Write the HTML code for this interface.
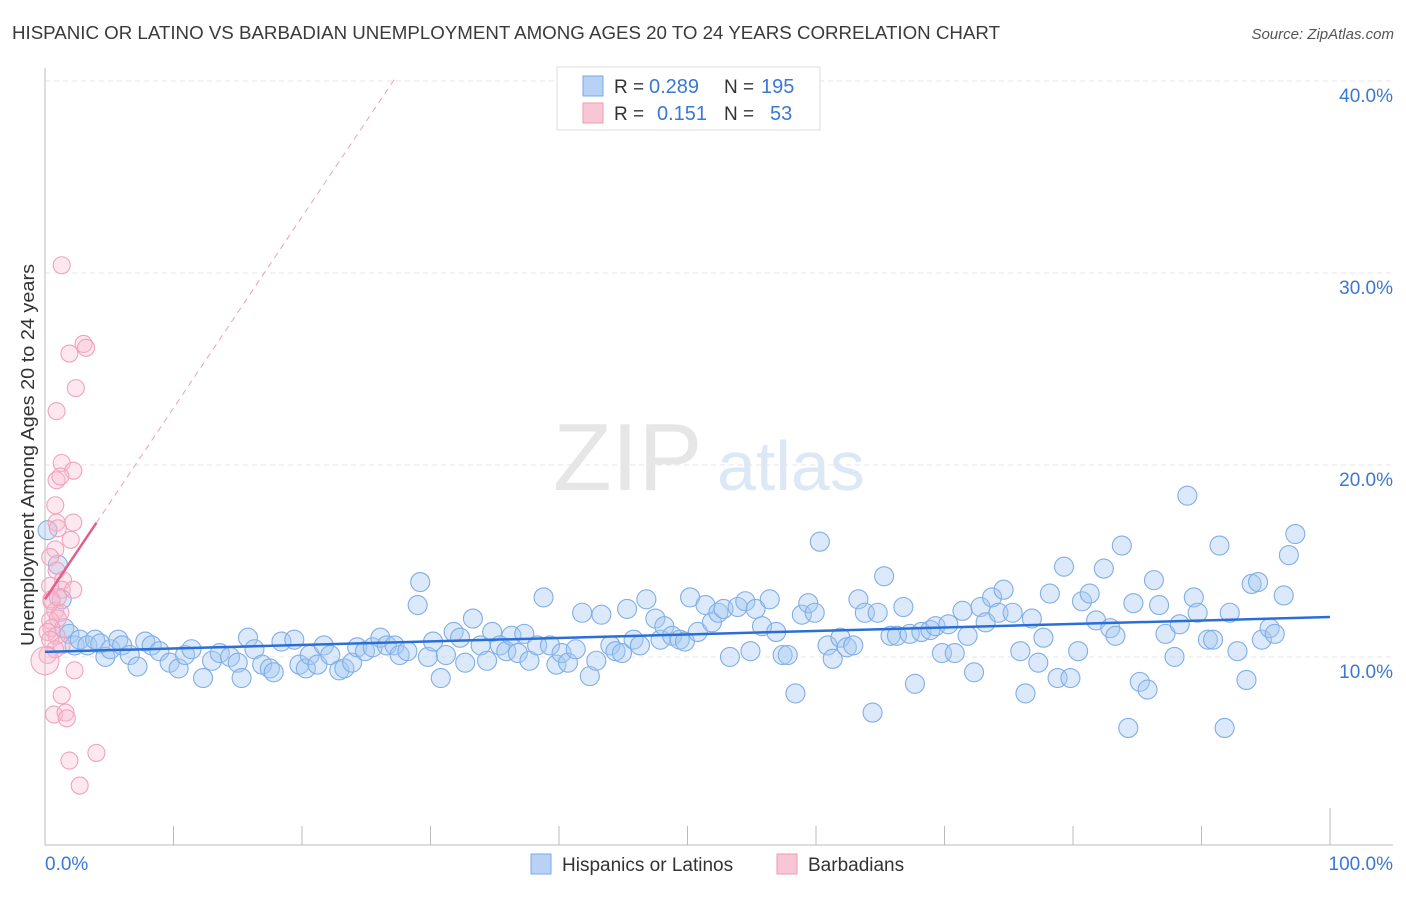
<!DOCTYPE html>
<html><head><meta charset="utf-8">
<style>
body{margin:0;background:#fff;font-family:"Liberation Sans",sans-serif;}
svg text{font-family:"Liberation Sans",sans-serif;}
</style></head>
<body>
<svg id="chart" width="1406" height="892" viewBox="0 0 1406 892" xmlns="http://www.w3.org/2000/svg">
<text x="12" y="39" font-size="18" fill="#3a3a3a" textLength="988" lengthAdjust="spacingAndGlyphs">HISPANIC OR LATINO VS BARBADIAN UNEMPLOYMENT AMONG AGES 20 TO 24 YEARS CORRELATION CHART</text>
<text x="1394" y="39" font-size="15" fill="#555" font-style="italic" text-anchor="end">Source: ZipAtlas.com</text>
<text x="553" y="490" font-size="96" fill="#e6e6e6" font-family="Liberation Serif">ZIP</text>
<text x="717" y="490" font-size="70" fill="#dde8f6">atlas</text>
<g id="grid"></g>
<g id="axes"></g>
<g id="marks"></g>
<text transform="translate(34,455) rotate(-90)" font-size="18" fill="#333" text-anchor="middle" textLength="382" lengthAdjust="spacingAndGlyphs">Unemployment Among Ages 20 to 24 years</text>
<g>
<rect x="557" y="67" width="263" height="63" fill="#fff" stroke="#ddd"/>
<rect x="583" y="76" width="20" height="20" fill="#b8d2f5" stroke="#7aa8e6"/>
<text x="614" y="93" font-size="19" fill="#333">R = </text><text x="649" y="93" font-size="20" fill="#3a78d4">0.289</text>
<text x="724" y="93" font-size="19" fill="#333">N = </text><text x="761" y="93" font-size="20" fill="#3a78d4">195</text>
<rect x="583" y="103" width="20" height="20" fill="#f9c6d6" stroke="#ee9ab4"/>
<text x="614" y="120" font-size="19" fill="#333">R = </text><text x="657" y="120" font-size="20" fill="#3a78d4">0.151</text>
<text x="724" y="120" font-size="19" fill="#333">N = </text><text x="770" y="120" font-size="20" fill="#3a78d4">53</text>
</g>
<g>
<rect x="531" y="854" width="20" height="20" fill="#b8d2f5" stroke="#7aa8e6"/>
<text x="562" y="871" font-size="19" fill="#333">Hispanics or Latinos</text>
<rect x="777" y="854" width="20" height="20" fill="#f9c6d6" stroke="#ee9ab4"/>
<text x="808" y="871" font-size="19" fill="#333">Barbadians</text>
</g>
</svg>
<script>
const blueX=[0.2,1.0,1.3,1.5,1.9,2.3,2.7,3.3,3.9,4.3,4.7,5.1,5.7,6.0,6.6,7.2,7.8,8.3,8.9,9.7,10.4,10.9,11.4,12.3,13.0,13.6,14.4,15.0,15.3,15.8,16.3,16.9,17.5,17.8,18.4,19.4,19.8,20.3,20.6,21.2,21.7,22.2,22.9,23.3,23.9,24.3,24.9,25.5,26.1,26.6,27.2,27.6,28.2,29.0,29.2,29.8,30.2,30.8,31.2,31.8,32.3,32.7,33.3,33.9,34.4,34.8,35.4,35.9,36.3,36.8,37.3,37.7,38.3,38.8,39.3,39.8,40.2,40.7,41.3,41.8,42.4,42.9,43.3,44.0,44.4,44.9,45.3,45.8,46.3,46.8,47.5,47.9,48.2,48.8,49.4,49.8,50.2,50.8,51.4,51.9,52.4,52.8,53.3,53.9,54.5,54.9,55.3,55.8,56.4,56.9,57.4,57.8,58.4,58.9,59.4,59.9,60.3,60.9,61.3,61.9,62.4,62.9,63.3,63.8,64.4,64.8,65.3,65.8,66.3,66.8,67.3,67.7,68.2,68.9,69.3,69.8,70.3,70.8,71.4,71.8,72.3,72.8,73.2,73.7,74.2,74.6,75.3,75.9,76.3,76.8,77.3,77.7,78.2,78.8,79.3,79.8,80.4,80.7,81.3,81.8,82.4,82.9,83.3,83.8,84.3,84.7,85.2,85.8,86.3,86.7,87.2,87.9,88.3,88.9,89.4,89.7,90.5,90.9,91.4,91.8,92.2,92.8,93.5,93.9,94.4,94.7,95.3,95.7,96.4,96.8,97.3];
const blueY=[16.5,14.7,12.9,11.4,11.1,10.5,10.8,10.5,10.8,10.6,9.9,10.3,10.8,10.5,10.0,9.4,10.7,10.5,10.2,9.6,9.3,10.0,10.3,8.8,9.7,10.1,9.9,9.6,8.8,10.9,10.3,9.5,9.3,9.1,10.7,10.8,9.5,9.3,10.0,9.5,10.5,10.0,9.2,9.3,9.6,10.4,10.2,10.4,10.9,10.5,10.5,10.0,10.2,12.6,13.8,9.9,10.7,8.8,10.0,11.2,10.9,9.6,11.9,10.5,9.7,11.2,10.5,10.2,11.0,10.1,11.1,9.7,10.5,13.0,10.5,9.5,10.1,9.6,10.3,12.2,8.9,9.7,12.1,10.5,10.2,10.1,12.4,10.8,10.5,12.9,11.9,10.8,11.5,11.0,10.8,10.7,13.0,11.2,12.6,11.7,12.2,12.4,9.9,12.5,12.8,10.2,12.4,11.5,12.9,11.2,10.0,10.0,8.0,12.1,12.7,12.2,15.9,10.5,9.8,10.9,10.4,10.5,12.9,12.2,7.0,12.2,14.1,11.0,11.0,12.5,11.1,8.5,11.2,11.3,11.5,10.1,11.6,10.1,12.3,11.0,9.1,12.5,11.7,13.0,12.2,13.4,12.2,10.2,8.0,11.9,9.6,10.9,13.2,8.8,14.6,8.8,10.2,12.8,13.2,11.8,14.5,11.4,11.0,15.7,6.2,12.7,8.6,8.2,13.9,12.6,11.1,9.9,11.6,18.3,13.0,12.2,10.8,10.8,15.7,6.2,12.2,10.2,8.7,13.7,13.8,10.8,11.4,11.1,13.1,15.2,16.3];
const pinkX=[1.3,1.9,3.0,3.2,2.4,0.9,1.3,2.2,0.9,1.2,0.8,0.9,2.2,1.0,2.0,0.8,0.4,0.9,1.4,0.4,1.3,2.2,0.5,0.8,1.2,0.4,1.0,0.5,0.2,0.9,0.4,1.3,0.8,0.2,0.0,2.3,1.3,0.7,1.6,1.7,1.9,4.0,2.7,0.5,1.0];
const pinkY=[30.3,25.7,26.2,26.0,23.9,22.7,20.0,19.6,19.1,19.3,17.8,16.9,16.9,16.6,16.0,15.5,15.1,14.4,13.9,13.6,13.4,13.4,12.9,12.3,12.2,11.8,11.9,11.4,11.2,11.0,10.8,10.5,10.3,10.0,9.7,9.2,7.9,6.9,7.0,6.7,4.5,4.9,3.2,12.8,13.0];
const blueTrend=[10.16,11.98];
const pinkTrend=[12.9,0.996];
const yTicks=[10,20,30,40];
const yTickLabels=["10.0%","20.0%","30.0%","40.0%"];
const xTicks=[0,10,20,30,40,50,60,70,80,90,100];

const NS="http://www.w3.org/2000/svg";
const sx=v=>45+v*12.85;
const sy=v=>847-v*19.2;
function mk(tag,attrs,parent){const e=document.createElementNS(NS,tag);for(const k in attrs)e.setAttribute(k,attrs[k]);parent.appendChild(e);return e;}
const grid=document.getElementById('grid'),axes=document.getElementById('axes'),marks=document.getElementById('marks');
yTicks.forEach((t,i)=>{
  const l=mk('line',{x1:45,x2:1393,y1:sy(t)+2,y2:sy(t)+2,stroke:'#e6e6e6','stroke-dasharray':'5,4'},grid);
  
  
  const tx=mk('text',{x:1393,y:sy(t)+23,'font-size':19,fill:'#3a78d4','text-anchor':'end'},grid);
  tx.textContent=yTickLabels[i];
  
  
});
const ya=mk('line',{x1:45,x2:45,y1:68,y2:845,stroke:'#bbb'},axes);


const xa=mk('line',{x1:45,x2:1393,y1:845,y2:845,stroke:'#bbb'},axes);


xTicks.forEach(t=>{
  const tk=mk('line',{x1:sx(t),x2:sx(t),y1:t===100?808:826,y2:845,stroke:'#bbb'},axes);
  
  
});
const x0=mk('text',{x:45,y:870,'font-size':19,fill:'#3a78d4'},axes);x0.textContent='0.0%';


const x1=mk('text',{x:1393,y:870,'font-size':19,fill:'#3a78d4','text-anchor':'end'},axes);x1.textContent='100.0%';



blueX.forEach((x,i)=>{
  const c=mk('circle',{cx:sx(x),cy:sy(blueY[i]),r:9.5,fill:'rgba(165,200,242,0.4)',stroke:'#80aee6','stroke-width':1.1},marks);
  
  
});
pinkX.forEach((x,i)=>{
  const c=mk('circle',{cx:sx(x),cy:sy(pinkY[i]),r:(i===34?14:8.5),fill:'rgba(248,185,205,0.32)',stroke:'#f0a3bb','stroke-width':1.1},marks);
  
  
});
const bt=mk('line',{x1:sx(0),y1:sy(blueTrend[0]),x2:sx(100),y2:sy(blueTrend[1]),stroke:'#2b6fd6','stroke-width':2.5},marks);


const xEnd=(40-pinkTrend[0])/pinkTrend[1];
const pd=mk('line',{x1:sx(4),y1:sy(pinkTrend[0]+4*pinkTrend[1]),x2:sx(xEnd),y2:sy(40),stroke:'#eaa0b8','stroke-width':1,'stroke-dasharray':'6,5'},marks);


const ps=mk('line',{x1:sx(0),y1:sy(pinkTrend[0]),x2:sx(4),y2:sy(pinkTrend[0]+4*pinkTrend[1]),stroke:'#e0608a','stroke-width':2.5},marks);


</script>
</body></html>
